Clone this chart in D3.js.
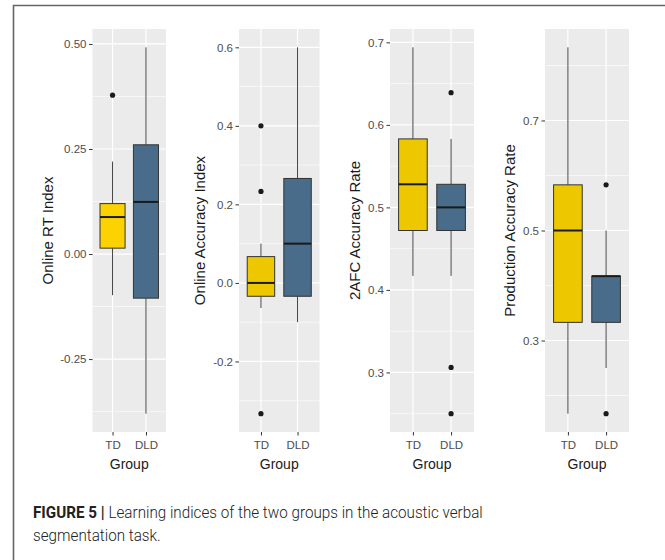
<!DOCTYPE html>
<html>
<head>
<meta charset="utf-8">
<script src="https://cdn.jsdelivr.net/npm/d3@7"></script>
<style>
  html, body { margin: 0; padding: 0; background: #fff; }
  svg { display: block; }
</style>
</head>
<body>
<svg id="fig" width="665" height="560"></svg>
<script>
// Groups compared in every panel
const groups = ["TD", "DLD"];

// Box statistics per group: [lower whisker, Q1, median, Q3, upper whisker]
const rtTD  = [-0.098, 0.014, 0.088, 0.120, 0.220];
const rtDLD = [-0.380, -0.105, 0.124, 0.260, 0.492];
const rtOutTD  = [0.378];
const rtOutDLD = [];

const accTD  = [-0.064, -0.034, 0.000, 0.067, 0.100];
const accDLD = [-0.100, -0.034, 0.100, 0.266, 0.600];
const accOutTD  = [0.400, 0.233, -0.333];
const accOutDLD = [];

const afcTD  = [0.417, 0.472, 0.528, 0.583, 0.694];
const afcDLD = [0.417, 0.472, 0.500, 0.528, 0.583];
const afcOutTD  = [];
const afcOutDLD = [0.639, 0.306, 0.250];

const prodTD  = [0.167, 0.333, 0.500, 0.583, 0.833];
const prodDLD = [0.250, 0.333, 0.417, 0.417, 0.500];
const prodOutTD  = [];
const prodOutDLD = [0.583, 0.167];

// Axis titles and tick values
const yTitles = ["Online RT Index", "Online Accuracy Index", "2AFC Accuracy Rate", "Production Accuracy Rate"];
const rtTicks   = [-0.25, 0, 0.25, 0.5];
const accTicks  = [-0.2, 0, 0.2, 0.4, 0.6];
const afcTicks  = [0.3, 0.4, 0.5, 0.6, 0.7];
const prodTicks = [0.3, 0.5, 0.7];
const tickFormats = [".2f", ".1f", ".1f", ".1f"];

const panels = [
  { title: yTitles[0], ticks: rtTicks,   fmt: tickFormats[0], stats: [rtTD, rtDLD],     out: [rtOutTD, rtOutDLD],     left: 92.5,  right: 166,   tdFill: "#FCD300" },
  { title: yTitles[1], ticks: accTicks,  fmt: tickFormats[1], stats: [accTD, accDLD],   out: [accOutTD, accOutDLD],   left: 239,   right: 319.5, tdFill: "#EDC800" },
  { title: yTitles[2], ticks: afcTicks,  fmt: tickFormats[2], stats: [afcTD, afcDLD],   out: [afcOutTD, afcOutDLD],   left: 390,   right: 474,   tdFill: "#EDC800" },
  { title: yTitles[3], ticks: prodTicks, fmt: tickFormats[3], stats: [prodTD, prodDLD], out: [prodOutTD, prodOutDLD], left: 545,   right: 629,   tdFill: "#EDC800" }
];

const dldFill = "#486C8A";
const plotTop = 29, plotBottom = 432;
const svg = d3.select("#fig");
// plain hyphen for negative tick labels
const locale = d3.formatLocale({ decimal: ".", thousands: ",", grouping: [3], currency: ["", ""], minus: "-" });

// Figure frame
svg.append("line").attr("x1", 13).attr("x2", 665).attr("y1", 5.5).attr("y2", 5.5)
  .attr("stroke", "#666").attr("stroke-width", 1.6);
svg.append("line").attr("x1", 13.5).attr("x2", 13.5).attr("y1", 5).attr("y2", 560)
  .attr("stroke", "#666").attr("stroke-width", 1.6);

panels.forEach(p => {
  const g = svg.append("g");
  const allVals = p.stats.flat().concat(p.out.flat());
  const lo = d3.min(allVals), hi = d3.max(allVals);
  const pad = (hi - lo) * 0.05;
  const y = d3.scaleLinear().domain([lo - pad, hi + pad]).range([plotBottom, plotTop]);
  const x = d3.scaleLinear().domain([0.4, 2.6]).range([p.left, p.right]);
  const unit = x(1) - x(0);

  // Panel background
  g.append("rect").attr("x", p.left).attr("y", plotTop)
    .attr("width", p.right - p.left).attr("height", plotBottom - plotTop)
    .attr("fill", "#EBEBEB");

  // Minor grid lines halfway between major ticks
  const step = p.ticks[1] - p.ticks[0];
  const minor = [];
  for (let v = p.ticks[0] - step / 2; v <= hi + pad; v += step) {
    if (v >= lo - pad) minor.push(v);
  }
  g.selectAll(".minor").data(minor).join("line")
    .attr("x1", p.left).attr("x2", p.right)
    .attr("y1", d => y(d)).attr("y2", d => y(d))
    .attr("stroke", "#fff").attr("stroke-width", 0.6);

  // Major grid lines
  g.selectAll(".major").data(p.ticks).join("line")
    .attr("x1", p.left).attr("x2", p.right)
    .attr("y1", d => y(d)).attr("y2", d => y(d))
    .attr("stroke", "#fff").attr("stroke-width", 1.2);
  g.selectAll(".vmajor").data(groups).join("line")
    .attr("x1", (d, i) => x(i + 1)).attr("x2", (d, i) => x(i + 1))
    .attr("y1", plotTop).attr("y2", plotBottom)
    .attr("stroke", "#fff").attr("stroke-width", 1.2);

  // Boxes
  groups.forEach((grp, i) => {
    const s = p.stats[i];
    const cx = x(i + 1);
    const half = unit * 0.75 / 2;
    const fill = i === 0 ? p.tdFill : dldFill;
    // whiskers
    g.append("line").attr("x1", cx).attr("x2", cx).attr("y1", y(s[3])).attr("y2", y(s[4]))
      .attr("stroke", "#444").attr("stroke-width", 1);
    g.append("line").attr("x1", cx).attr("x2", cx).attr("y1", y(s[1])).attr("y2", y(s[0]))
      .attr("stroke", "#444").attr("stroke-width", 1);
    // box
    g.append("rect").attr("x", cx - half).attr("y", y(s[3]))
      .attr("width", half * 2).attr("height", y(s[1]) - y(s[3]))
      .attr("fill", fill).attr("stroke", "#333").attr("stroke-width", 1);
    // median
    g.append("line").attr("x1", cx - half).attr("x2", cx + half)
      .attr("y1", y(s[2])).attr("y2", y(s[2]))
      .attr("stroke", "#1a1a1a").attr("stroke-width", 2);
    // outliers
    g.selectAll(null).data(p.out[i]).join("circle")
      .attr("cx", cx).attr("cy", d => y(d)).attr("r", 2.6).attr("fill", "#1a1a1a");
  });

  // Y axis
  const yAxis = g.append("g").attr("transform", `translate(${p.left},0)`)
    .call(d3.axisLeft(y).tickValues(p.ticks).tickFormat(locale.format(p.fmt)).tickSize(3.5).tickPadding(2.5));
  yAxis.select(".domain").remove();
  yAxis.selectAll(".tick line").attr("stroke", "#333");
  yAxis.selectAll(".tick text").attr("fill", "#4D4D4D")
    .style("font-family", "'Liberation Sans', Arial, sans-serif").style("font-size", "11.5px");

  // X axis
  const xAxis = g.append("g").attr("transform", `translate(0,${plotBottom})`)
    .call(d3.axisBottom(x).tickValues([1, 2]).tickFormat((d) => groups[d - 1]).tickSize(3.5).tickPadding(5));
  xAxis.select(".domain").remove();
  xAxis.selectAll(".tick line").attr("stroke", "#333");
  xAxis.selectAll(".tick text").attr("fill", "#4D4D4D")
    .style("font-family", "'Liberation Sans', Arial, sans-serif").style("font-size", "11.5px");

  // Axis titles
  const labelLeft = yAxis.node().getBBox().x + p.left;
  const tx = labelLeft - 13;
  g.append("text")
    .attr("transform", `translate(${tx},${(plotTop + plotBottom) / 2}) rotate(-90)`)
    .attr("dy", "0.35em").attr("text-anchor", "middle")
    .style("font-family", "'Liberation Sans', Arial, sans-serif").style("font-size", "15px")
    .attr("fill", "#1a1a1a").text(p.title);
  g.append("text")
    .attr("x", (p.left + p.right) / 2).attr("y", 468.5)
    .attr("text-anchor", "middle")
    .style("font-family", "'Liberation Sans', Arial, sans-serif").style("font-size", "14px")
    .attr("fill", "#1a1a1a").text("Group");
});

// Caption
const cap = svg.append("g").style("font-family", "Roboto, 'Liberation Sans', Arial, sans-serif")
  .style("font-size", "16px").attr("fill", "#222");
const line1 = cap.append("text").attr("x", 0).attr("y", 518);
line1.append("tspan").attr("font-weight", 700).text("FIGURE 5");
line1.append("tspan").attr("font-weight", 700).text(" | ");
line1.append("tspan").attr("font-weight", 300).text("Learning indices of the two groups in the acoustic verbal");
const line2 = cap.append("text").attr("x", 0).attr("y", 541.5).attr("font-weight", 300)
  .text("segmentation task.");
const w1 = line1.node().getBBox().width;
const sx = 450 / w1;
line1.attr("transform", `translate(33,0) scale(${sx},1)`);
line2.attr("transform", `translate(33,0) scale(${sx},1)`);
</script>
</body>
</html>
